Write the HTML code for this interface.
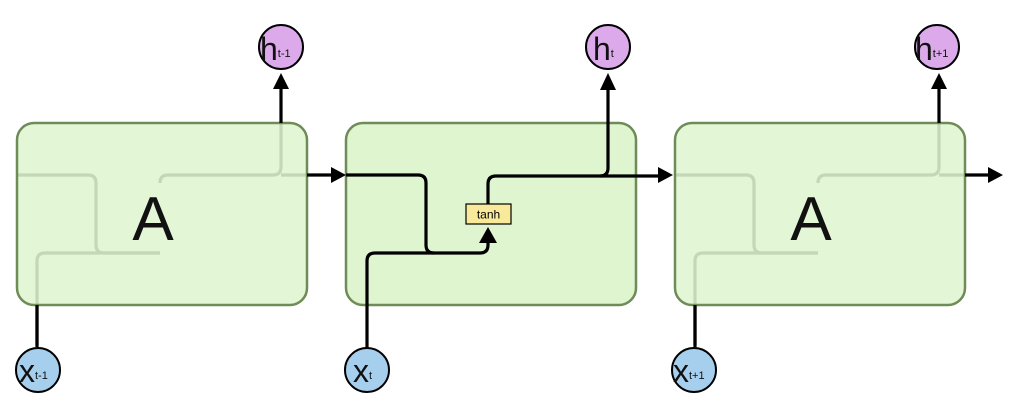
<!DOCTYPE html>
<html><head><style>body{margin:0;background:#fff}svg{display:block}</style></head><body>
<svg width="1012" height="404" viewBox="0 0 1012 404" xmlns="http://www.w3.org/2000/svg" font-family="Liberation Sans, DejaVu Sans, sans-serif">
<defs>
<marker id="ah" markerWidth="10" markerHeight="10" refX="8" refY="5" orient="auto" markerUnits="userSpaceOnUse" viewBox="0 0 10 10"><path d="M0,0 L10,5 L0,10 z" fill="#000"/></marker>
</defs>
<g fill="none" stroke="#000" stroke-width="3.2">
<!-- box1 internal (will be covered) -->
<path d="M17,175 H88 Q96,175 96,183 V245 Q96,253 104,253 H160"/>
<path d="M37,345 V261 Q37,253 45,253 H160"/>
<path d="M160,183 Q160,175 168,175 H273 Q281,175 281,167 V123"/>
<path d="M281,175 H307"/>
<!-- box3 internal -->
<path d="M675,175 H746 Q754,175 754,183 V245 Q754,253 762,253 H818"/>
<path d="M695,345 V261 Q695,253 703,253 H818"/>
<path d="M818,183 Q818,175 826,175 H931 Q939,175 939,167 V123"/>
<path d="M939,175 H965"/>
</g>
<rect x="17" y="123" width="290" height="182" rx="17" fill="#dff5cf" fill-opacity="0.88" stroke="#6f8c58" stroke-width="2.5"/>
<rect x="346" y="123" width="290" height="182" rx="17" fill="#dff5cf" stroke="#6f8c58" stroke-width="2.5"/>
<rect x="675" y="123" width="290" height="182" rx="17" fill="#dff5cf" fill-opacity="0.88" stroke="#6f8c58" stroke-width="2.5"/>
<g fill="none" stroke="#000" stroke-width="3.2">
<path d="M281,123 V88"/>
<path d="M37,305 V347"/>
<path d="M307,175 H331"/>
<path d="M939,123 V88"/>
<path d="M695,305 V347"/>
<path d="M965,175 H988"/>
<!-- middle cell -->
<path d="M346,175 H418 Q426,175 426,183 V245 Q426,253 434,253"/>
<path d="M367,350 V261 Q367,253 375,253 H480 Q488,253 488,245 V242"/>
<path d="M488,204 V184 Q488,176 496,176 H600 Q608,176 608,168 V89"/>
<path d="M600,176 H658"/>
</g>
<g fill="#000">
<path d="M331,167 L346,175 L331,183 z"/>
<path d="M988,167 L1003,175 L988,183 z"/>
<path d="M658,167 L673,175 L658,183 z"/>
<path d="M273,89 L281,73 L289,89 z"/>
<path d="M931,89 L939,73 L947,89 z"/>
<path d="M600,90 L608,73 L616,90 z"/>
<path d="M479,243 L488,227 L497,243 z"/>
</g>
<rect x="466" y="204" width="45" height="20" fill="#f8ea9a" stroke="#000" stroke-width="1.2"/>
<text x="488.5" y="218.5" font-size="12" text-anchor="middle" fill="#000">tanh</text>
<text x="153" y="240" font-size="62" text-anchor="middle" fill="#111">A</text>
<text x="811" y="240" font-size="62" text-anchor="middle" fill="#111">A</text>
<g stroke="#000" stroke-width="2">
<circle cx="281" cy="47" r="22" fill="#dcaaea"/>
<circle cx="608" cy="47" r="22" fill="#dcaaea"/>
<circle cx="937" cy="47" r="22" fill="#dcaaea"/>
<circle cx="38" cy="370" r="22" fill="#a6cfee"/>
<circle cx="367" cy="370" r="22" fill="#a6cfee"/>
<circle cx="694" cy="370" r="22" fill="#a6cfee"/>
</g>
<g fill="#111">
<text x="260" y="60" font-size="32">h<tspan font-size="11" dy="-3">t-1</tspan></text>
<text x="593" y="60" font-size="32">h<tspan font-size="11" dy="-3">t</tspan></text>
<text x="915" y="60" font-size="32">h<tspan font-size="11" dy="-3">t+1</tspan></text>
<text x="19" y="382" font-size="32">x<tspan font-size="11" dy="-3">t-1</tspan></text>
<text x="353" y="382" font-size="32">x<tspan font-size="11" dy="-3">t</tspan></text>
<text x="673" y="382" font-size="32">x<tspan font-size="11" dy="-3">t+1</tspan></text>
</g>
</svg>
</body></html>
